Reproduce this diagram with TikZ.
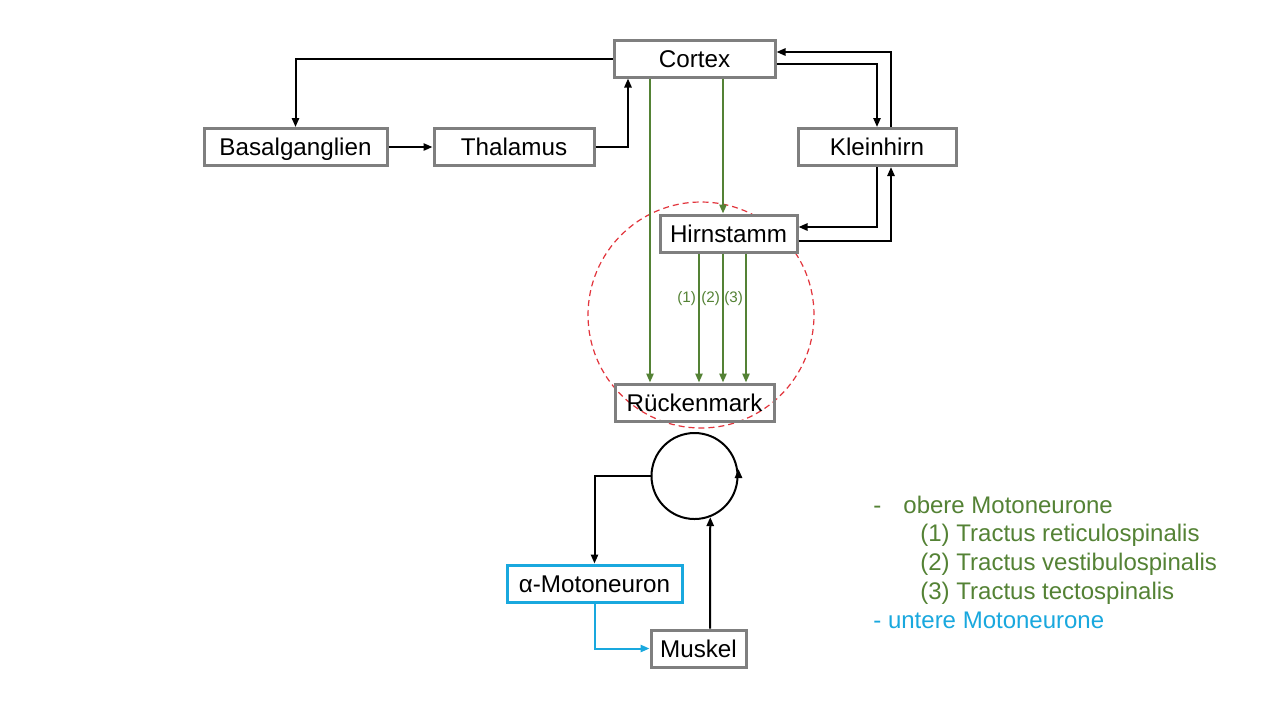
\documentclass[tikz,border=0pt]{standalone}
\usepackage{fontspec}
\setmainfont{Liberation Sans}
\usetikzlibrary{arrows.meta,calc}
\definecolor{boxgray}{RGB}{127,127,127}
\definecolor{tractgreen}{RGB}{84,130,53}
\definecolor{lowblue}{RGB}{25,168,222}
\definecolor{dashred}{RGB}{226,52,60}
\tikzset{
  box/.style={draw=boxgray, line width=1.5pt, fill=white, minimum height=18.5pt, inner sep=0pt,
    text height=8.7pt, text depth=0pt,
    font=\fontsize{12.1}{14}\selectfont, text=black},
  arr/.style={line width=1pt, -{Triangle[length=4.5pt,width=3.6pt]}},
  garr/.style={arr, draw=tractgreen, color=tractgreen},
  barr/.style={arr, draw=lowblue, color=lowblue},
  tlabel/.style={font=\fontsize{7.6}{8}\selectfont, text=tractgreen, inner sep=1pt},
  legend/.style={anchor=base west, inner sep=0pt, font=\fontsize{12}{14}\selectfont}
}
\begin{document}
\begin{tikzpicture}[x=0.5pt,y=-0.5pt]
\useasboundingbox (0,0) rectangle (1280,720);
\fill[white] (0,0) rectangle (1280,720);
% red dashed circle
\draw[dashred, line width=0.6pt, dash pattern=on 3pt off 2pt] (701,315) circle[radius=56.5pt];
% nodes
\node[box, minimum width=80.5pt] (cortex) at (694.5,58.5) {Cortex};
\node[box, minimum width=79pt] (klein) at (877,147) {Kleinhirn};
\node[box, minimum width=68.5pt] (hirn) at (728.5,233.5) {Hirnstamm};
\node[box, minimum width=91.5pt] (basal) at (295.5,147) {Basalganglien};
\node[box, minimum width=80pt] (thal) at (514,147) {Thalamus};
\node[box, minimum width=79.5pt, fill=none] (ruecken) at (694.5,402.5) {Rückenmark};
\node[draw=black, line width=1pt, circle, minimum size=43pt, inner sep=0pt] (loop) at (694.5,476) {};
\node[box, draw=lowblue, minimum width=87.5pt] (alpha) at (594.5,583.5) {α-Motoneuron};
\node[box, minimum width=47.5pt] (muskel) at (698.5,648.5) {Muskel};
% black connectors
\draw[arr] (cortex.west) -| (basal.north);
\draw[arr] (basal.east) -- (thal.west);
\draw[arr] (thal.east) -| ($(cortex.south west)+(15.5,0)$);
\draw[arr] ($(cortex.east)+(0,5.5)$) -| (klein.north);
\draw[arr] ($(klein.north)+(14,0)$) |- ($(cortex.east)+(0,-6.5)$);
\draw[arr] (klein.south) |- ($(hirn.east)+(0,-6.5)$);
\draw[arr] ($(hirn.east)+(0,7.5)$) -| ($(klein.south)+(14,0)$);
% green tracts
\coordinate (g0) at ($(cortex.south)+(-44.5,0)$);
\coordinate (g1) at ($(cortex.south)+(28.5,0)$);
\draw[garr] (g0) -- (g0 |- ruecken.north);
\draw[garr] (g1) -- (g1 |- hirn.north);
\coordinate (h1) at ($(hirn.south)+(-29.5,0)$);
\coordinate (h2) at ($(hirn.south)+(-5.5,0)$);
\coordinate (h3) at ($(hirn.south)+(17.5,0)$);
\draw[garr] (h1) -- node[tlabel, pos=0.35, left] {(1)} (h1 |- ruecken.north);
\draw[garr] (h2) -- node[tlabel, pos=0.35, left] {(2)} (h2 |- ruecken.north);
\draw[garr] (h3) -- node[tlabel, pos=0.35, left] {(3)} (h3 |- ruecken.north);
% lower loop
\draw[arr] (loop.west) -| (alpha.north);
\draw[barr] (alpha.south) |- (muskel.west);
\draw[arr] ($(muskel.north)+(11.5,0)$) -- (loop.-69.4);
\draw[arr] (loop.east) -- ++(0,-7);
% legend
\node[legend, text=tractgreen] (l0) at (873,513.5) {-};
\node[legend, text=tractgreen] (l1) at (903,513.5) {obere Motoneurone};
\node[legend, text=tractgreen] (l2) at (920,541.5) {(1) Tractus reticulospinalis};
\node[legend, text=tractgreen] (l3) at (920,570.5) {(2) Tractus vestibulospinalis};
\node[legend, text=tractgreen] (l4) at (920,599.5) {(3) Tractus tectospinalis};
\node[legend, text=lowblue] (l5) at (873,628.5) {- untere Motoneurone};
\end{tikzpicture}
\end{document}
